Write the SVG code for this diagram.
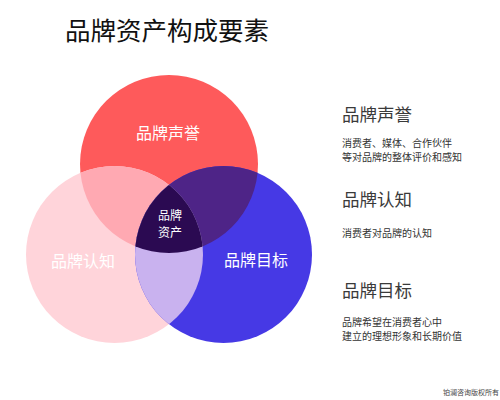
<svg xmlns="http://www.w3.org/2000/svg" width="500" height="400" viewBox="0 0 500 400">
<style>
text{font-family:"Noto Sans CJK SC","Noto Sans",sans-serif}
.w{fill:#fff}
.h{fill:#3a3a3a;font-size:17.5px}
.d{fill:#333;font-size:10px}
</style>
<defs>
<clipPath id="cR"><circle cx="169" cy="164" r="89"/></clipPath>
<clipPath id="cP"><circle cx="114.5" cy="254.5" r="88.5"/></clipPath>
<clipPath id="cB"><circle cx="223.5" cy="254.5" r="88.5"/></clipPath>
</defs>
<rect width="500" height="400" fill="#fff"/>
<text x="65" y="40" font-size="25.5" fill="#111">品牌资产构成要素</text>
<g id="reputation"><circle cx="169" cy="164" r="89" fill="#FE5A5B"/></g>
<g id="awareness"><circle cx="114.5" cy="254.5" r="88.5" fill="#FFD4DA"/></g>
<g id="goal"><circle cx="223.5" cy="254.5" r="88.5" fill="#4639E5"/></g>
<g id="overlaps">
<circle cx="114.5" cy="254.5" r="88.5" fill="#FFA9B2" clip-path="url(#cR)"/>
<circle cx="223.5" cy="254.5" r="88.5" fill="#4E2487" clip-path="url(#cR)"/>
<circle cx="223.5" cy="254.5" r="88.5" fill="#C9B2EF" clip-path="url(#cP)"/>
<g clip-path="url(#cR)"><circle cx="223.5" cy="254.5" r="88.5" fill="#2B0A52" clip-path="url(#cP)"/></g>
</g>
<g id="labels">
<text class="w" x="168" y="139" font-size="16" text-anchor="middle">品牌声誉</text>
<text class="w" x="83" y="267" font-size="16" text-anchor="middle">品牌认知</text>
<text class="w" x="256" y="266" font-size="16" text-anchor="middle">品牌目标</text>
<text class="w" x="170" y="219.5" font-size="12" text-anchor="middle">品牌</text>
<text class="w" x="170" y="237" font-size="12" text-anchor="middle">资产</text>
</g>
<g id="legend-reputation">
<text class="h" x="342" y="121">品牌声誉</text>
<text class="d" x="342" y="146.5">消费者、媒体、合作伙伴</text>
<text class="d" x="342" y="160.5">等对品牌的整体评价和感知</text>
</g>
<g id="legend-awareness">
<text class="h" x="342" y="206">品牌认知</text>
<text class="d" x="342" y="237">消费者对品牌的认知</text>
</g>
<g id="legend-goal">
<text class="h" x="342" y="297">品牌目标</text>
<text class="d" x="342" y="326">品牌希望在消费者心中</text>
<text class="d" x="342" y="340">建立的理想形象和长期价值</text>
</g>
<text x="443" y="395" font-size="7" fill="#444">铂澜咨询版权所有</text>
</svg>
